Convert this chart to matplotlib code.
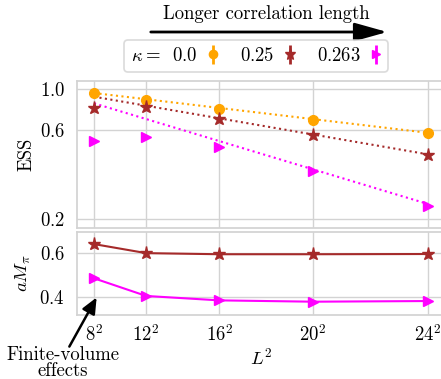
import numpy as np
import matplotlib
matplotlib.use("Agg")
import matplotlib.pyplot as plt

plt.rcParams['font.family'] = 'serif'
plt.rcParams['font.serif'] = ['cmr10', 'DejaVu Serif']
plt.rcParams['mathtext.fontset'] = 'cm'
plt.rcParams['axes.unicode_minus'] = False
plt.rcParams['axes.formatter.use_mathtext'] = True

# ---- data ----
L = np.array([8, 12, 16, 20, 24])
L2 = L ** 2
kappas = ["0.0", "0.25", "0.263"]
colors = ["orange", "brown", "magenta"]
markers = ["o", "*", ">"]

ess_k0 = [0.948, 0.875, 0.786, 0.682, 0.578]
ess_k025 = [0.794, 0.804, 0.693, 0.565, 0.443]
ess_k0263 = [0.528, 0.555, 0.489, 0.362, 0.237]

# exponential fits ESS = A * exp(-b L^2)
fit_amp = [1.012, 0.994, 0.979]
fit_rate = [0.000959, 0.001389, 0.002426]

mpi_k025 = [0.640, 0.599, 0.594, 0.594, 0.595]
mpi_k0263 = [0.485, 0.405, 0.385, 0.379, 0.382]

ess_all = [ess_k0, ess_k025, ess_k0263]
mpi_all = [None, mpi_k025, mpi_k0263]

FS = 13.5
msizes = {"o": 7, "*": 9.5, ">": 7.5}

# ---- figure ----
W, H = 441, 379
fig = plt.figure(figsize=(W / 100, H / 100), dpi=100)

x0, x1 = 77.3, 444.7
ax1 = fig.add_axes([x0 / W, (H - 228) / H, (x1 - x0) / W, (228 - 81) / H])
ax2 = fig.add_axes([x0 / W, (H - 314.5) / H, (x1 - x0) / W, (314.5 - 231.5) / H])

gridc = '#d3d3d3'
for ax in (ax1, ax2):
    ax.set_facecolor('white')
    ax.grid(True, color=gridc, linewidth=1.0)
    ax.set_axisbelow(True)
    for s in ax.spines.values():
        s.set_color(gridc)
        s.set_linewidth(1.25)
    ax.tick_params(length=0, labelsize=FS)
    ax.tick_params(axis='y', pad=9)
    ax.tick_params(axis='x', pad=7)
    ax.set_xlim(38.4, 601.6)

xfit = np.array([L2[0], L2[-1]])
for i in range(3):
    ax1.plot(L2, ess_all[i], linestyle='none', marker=markers[i], color=colors[i],
             markersize=msizes[markers[i]], zorder=3)
    ax1.plot(xfit, fit_amp[i] * np.exp(-fit_rate[i] * xfit), linestyle=':',
             color=colors[i], linewidth=1.5, zorder=2)

ax1.set_yscale('log')
ax1.set_ylim(0.180, 1.104)
ax1.yaxis.set_major_locator(matplotlib.ticker.FixedLocator([0.2, 0.6, 1.0]))
ax1.yaxis.set_minor_locator(matplotlib.ticker.NullLocator())
ax1.set_yticklabels(['$0.2$', '$0.6$', '$1.0$'])
ax1.set_xticks(L2)
ax1.set_xticklabels([])
ax1.set_ylabel('ESS', fontsize=FS, labelpad=3)

for i in (1, 2):
    ax2.plot(L2, mpi_all[i], linestyle='-', marker=markers[i], color=colors[i],
             markersize=msizes[markers[i]], linewidth=1.5)
ax2.set_ylim(0.321, 0.697)
ax2.set_yticks([0.4, 0.6])
ax2.set_yticklabels(['$0.4$', '$0.6$'])
ax2.set_xticks(L2)
ax2.set_xticklabels([f'${l}^2$' for l in L])
ax2.set_xlabel('$L^2$', fontsize=FS, labelpad=2)
ax2.set_ylabel(r'$aM_\pi$', fontsize=FS, labelpad=5)

# legend
handles, labels = [], []
for i in range(3):
    eb = ax1.errorbar([np.nan], [np.nan], yerr=[1.0], linestyle='none', marker=markers[i],
                      color=colors[i], markersize=msizes[markers[i]], elinewidth=2)
    handles.append(eb)
    labels.append(f'${kappas[i]}$')
labels[0] = r'$\kappa=\;\;' + kappas[0] + '$'
leg = fig.legend(handles, labels, ncol=3, loc='center', bbox_to_anchor=(256 / W, (H - 56) / H),
                 markerfirst=False, frameon=True, fontsize=FS, handlelength=0.5,
                 handletextpad=0.6, columnspacing=1.17, borderpad=0.35, fancybox=True,
                 markerscale=0.85)
leg.get_frame().set_edgecolor(gridc)
leg.get_frame().set_linewidth(1.25)

# top arrow
fig.patches.append(matplotlib.patches.FancyArrowPatch(
    (148 / W, (H - 32) / H), (390 / W, (H - 32) / H), transform=fig.transFigure,
    arrowstyle='-|>,head_length=1.0,head_width=0.28', mutation_scale=20,
    color='black', linewidth=2.0))
fig.text(266 / W, (H - 14) / H, 'Longer correlation length', ha='center', va='center', fontsize=FS)

# finite volume annotation
fig.patches.append(matplotlib.patches.FancyArrowPatch(
    (68 / W, (H - 349) / H), (98 / W, (H - 295) / H), transform=fig.transFigure,
    arrowstyle='-|>,head_length=0.8,head_width=0.35', mutation_scale=12,
    color='black', linewidth=1.8))
fig.text(63 / W, (H - 363) / H, 'Finite-volume\neffects', ha='center', va='center',
         fontsize=FS, linespacing=0.8)

fig.savefig('out.png', dpi=100)
